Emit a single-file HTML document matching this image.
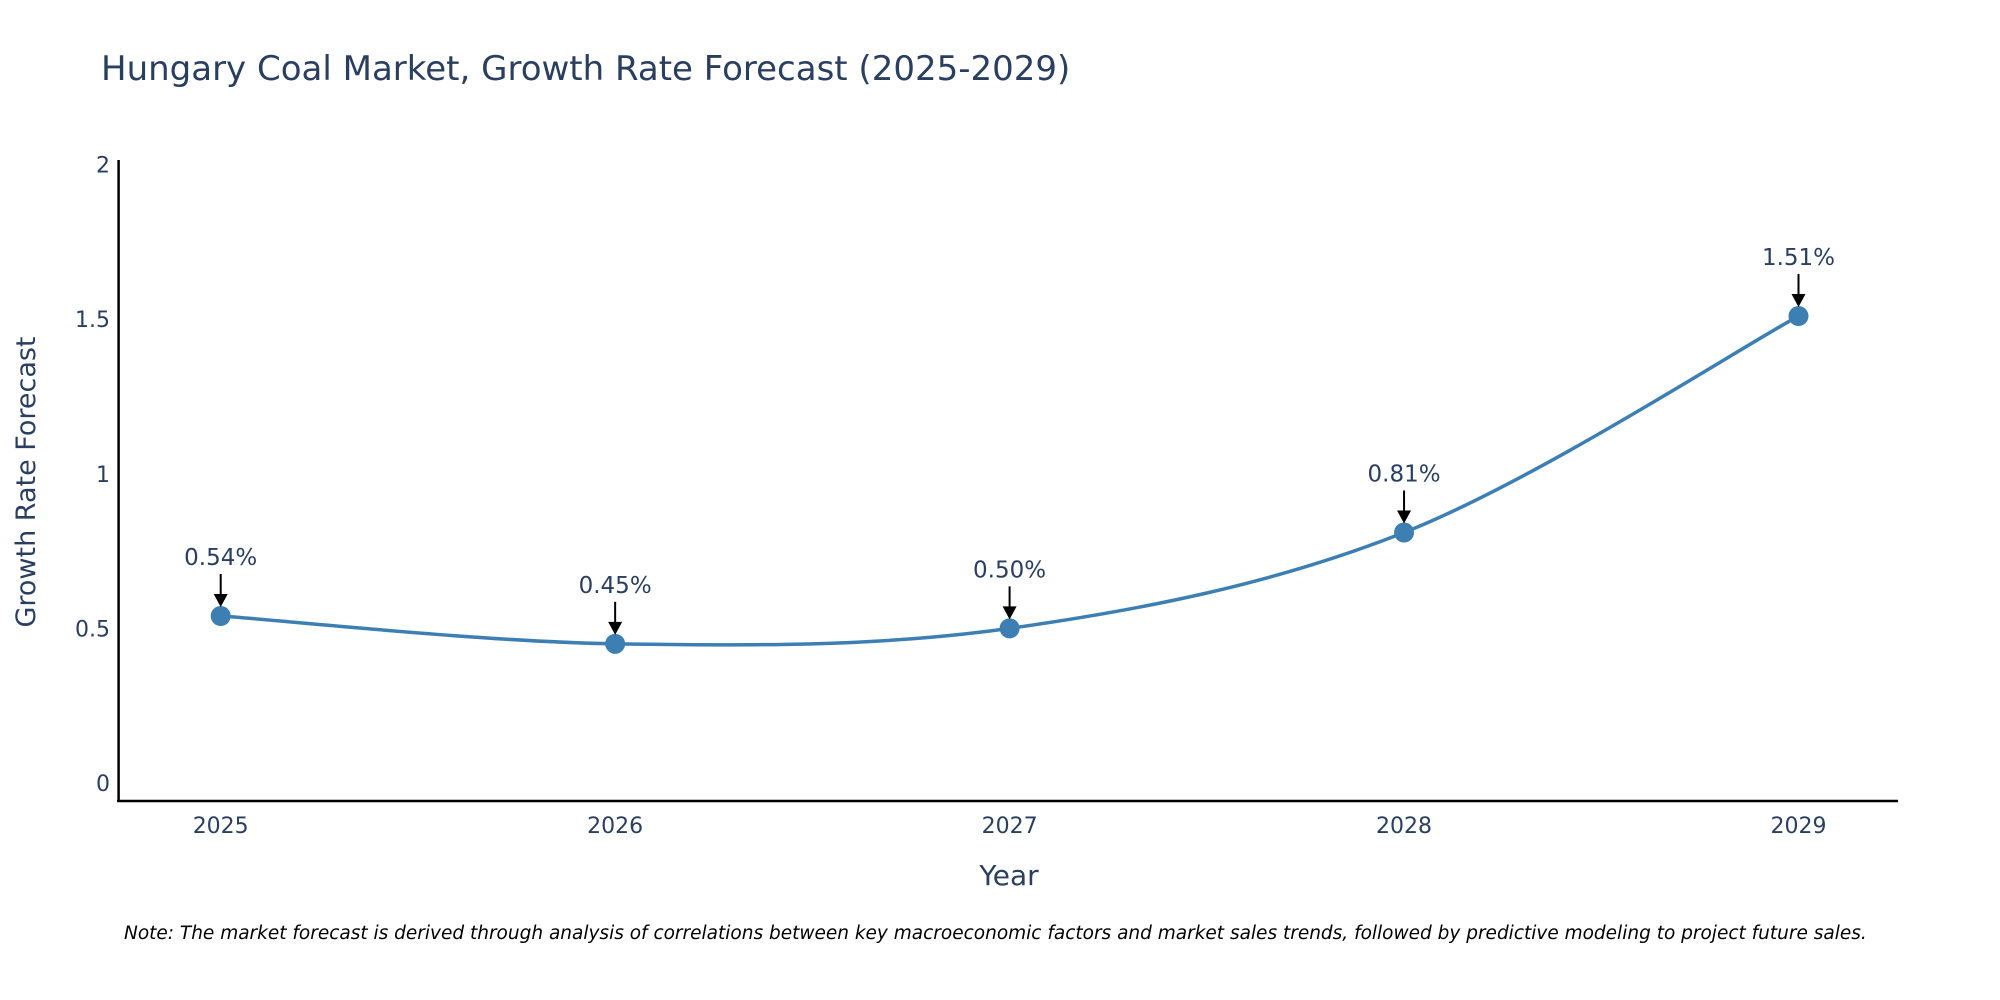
<!DOCTYPE html>
<html><head><meta charset="utf-8"><style>
body{margin:0;background:#fff;}
svg{display:block;font-family:"DejaVu Sans",sans-serif;}
</style></head><body>
<svg id="chart" width="2000" height="1000">
<text x="101" y="80" font-size="34" fill="#2a3f5f">Hungary Coal Market, Growth Rate Forecast (2025-2029)</text>
<g id="yticks"></g><g id="xticks"></g>
<line x1="118.6" y1="160" x2="118.6" y2="802" stroke="#000" stroke-width="2.5"/>
<line x1="117" y1="801" x2="1898" y2="801" stroke="#000" stroke-width="2.5"/>
<text transform="translate(35,482) rotate(-90)" text-anchor="middle" font-size="27" fill="#2a3f5f">Growth Rate Forecast</text>
<text x="1009" y="885" text-anchor="middle" font-size="28" fill="#2a3f5f">Year</text>
<g id="series"></g>
<text x="124" y="939" font-size="18.5" font-style="italic" fill="#000">Note: The market forecast is derived through analysis of correlations between key macroeconomic factors and market sales trends, followed by predictive modeling to project future sales.</text>
</svg>
<script>
const years = [2025, 2026, 2027, 2028, 2029];
const growth = [0.54, 0.45, 0.50, 0.81, 1.51];
const yTickValues = [0, 0.5, 1, 1.5, 2];
const yTickLabels = ["0", "0.5", "1", "1.5", "2"];

const NS = "http://www.w3.org/2000/svg";
function xs(v){ return 220.7 + (v - 2025) * (1798.5 - 220.7) / 4; }
function ys(v){ return 783 - v * (783 - 164.5) / 2; }
function mk(tag, attrs, parent){ const e = document.createElementNS(NS, tag); for (const k in attrs) e.setAttribute(k, attrs[k]); parent.appendChild(e); return e; }

const yt = document.getElementById('yticks');
yTickValues.forEach((v, i) => {
  const t = mk('text', {x: 110, y: ys(v) + 8, 'text-anchor': 'end', 'font-size': 22, fill: '#2a3f5f'}, yt);
  
  
  t.textContent = yTickLabels[i];
});
const xt = document.getElementById('xticks');
years.forEach(y => {
  const t = mk('text', {x: xs(y), y: 833, 'text-anchor': 'middle', 'font-size': 22, fill: '#2a3f5f'}, xt);
  
  
  t.textContent = String(y);
});

const g = document.getElementById('series');
const pts = years.map((y, i) => [xs(y), ys(growth[i])]);
let d = `M${pts[0][0]},${pts[0][1]}`;
const s = 1/6;
for (let i = 0; i < pts.length - 1; i++) {
  const p0 = pts[Math.max(0, i-1)], p1 = pts[i], p2 = pts[i+1], p3 = pts[Math.min(pts.length-1, i+2)];
  const c1 = [p1[0] + (p2[0]-p0[0])*s, p1[1] + (p2[1]-p0[1])*s];
  const c2 = [p2[0] - (p3[0]-p1[0])*s, p2[1] - (p3[1]-p1[1])*s];
  d += ` C${c1[0]},${c1[1]} ${c2[0]},${c2[1]} ${p2[0]},${p2[1]}`;
}
const line = mk('path', {d: d, fill: 'none', stroke: '#3d7fb3', 'stroke-width': 3.5}, g);



pts.forEach((p, i) => {
  const c = mk('circle', {cx: p[0], cy: p[1], r: 10, fill: '#3d7fb3'}, g);
  
  
  const a = mk('line', {x1: p[0], y1: p[1] - 42, x2: p[0], y2: p[1] - 20, stroke: '#000', 'stroke-width': 2}, g);
  
  
  const h = mk('polygon', {points: `${p[0]-7},${p[1]-22} ${p[0]+7},${p[1]-22} ${p[0]},${p[1]-9}`, fill: '#000'}, g);
  
  
  const t = mk('text', {x: p[0], y: p[1] - 51, 'text-anchor': 'middle', 'font-size': 23, fill: '#2a3f5f'}, g);
  
  
  t.textContent = growth[i].toFixed(2) + '%';
});
</script>
</body></html>
